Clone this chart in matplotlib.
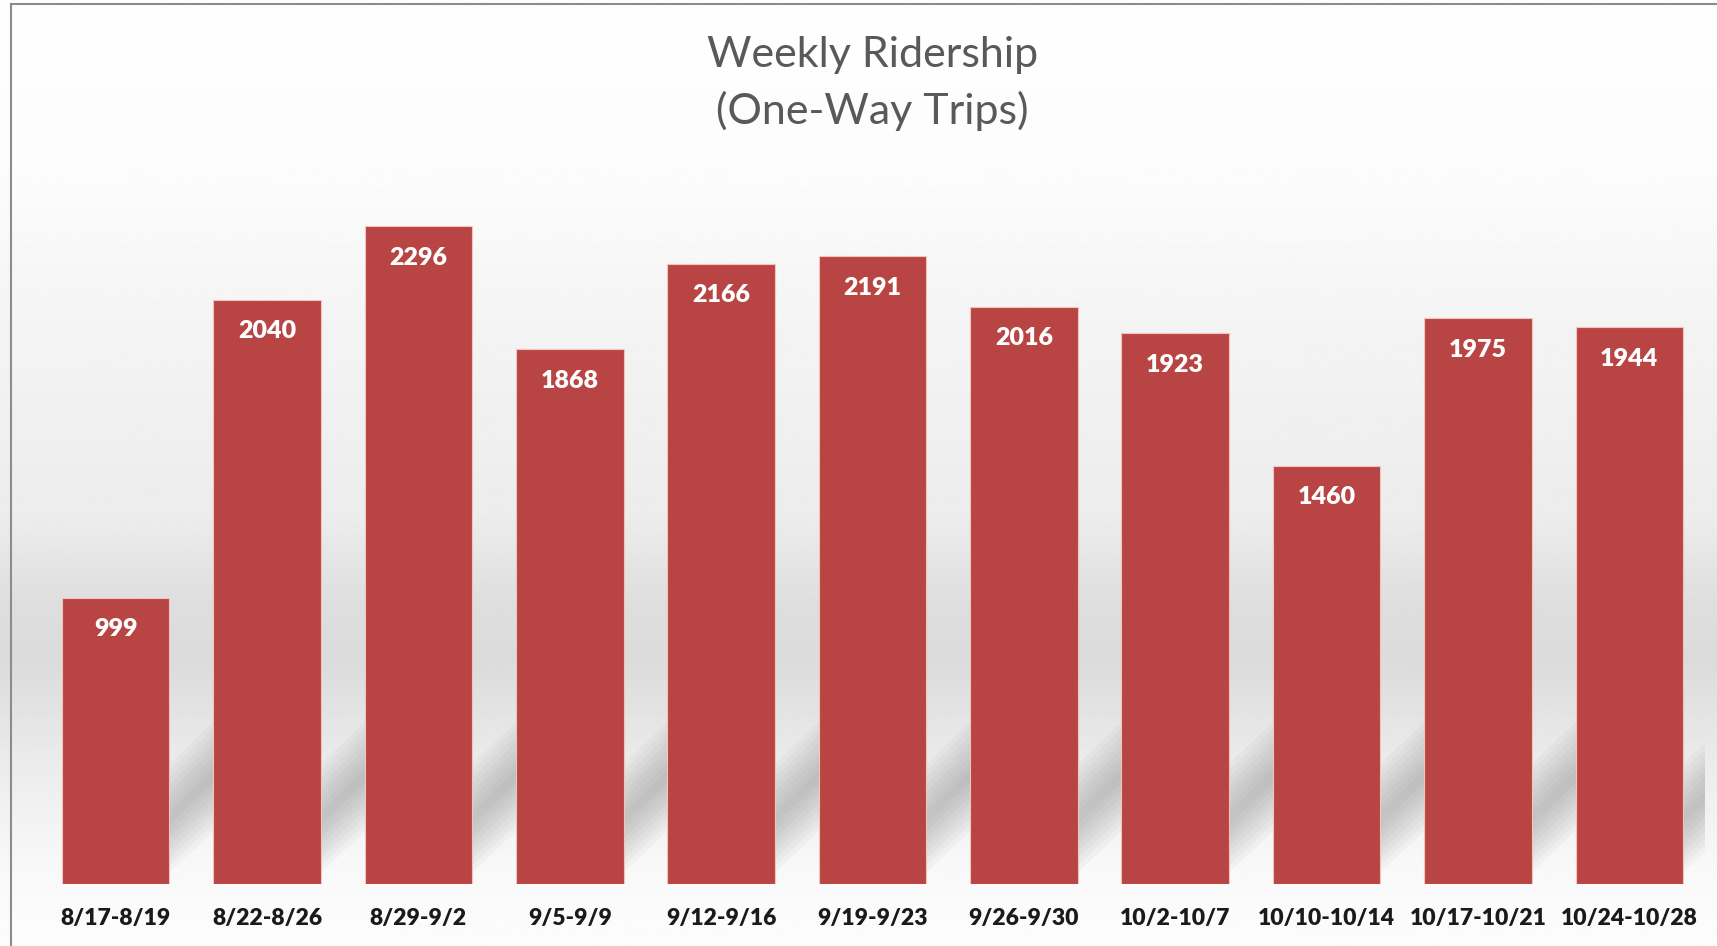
import numpy as np
import matplotlib.pyplot as plt
from matplotlib.patches import Polygon

weeks = ['8/17-8/19', '8/22-8/26', '8/29-9/2', '9/5-9/9', '9/12-9/16', '9/19-9/23',
         '9/26-9/30', '10/2-10/7', '10/10-10/14', '10/17-10/21', '10/24-10/28']
trips = [999, 2040, 2296, 1868, 2166, 2191, 2016, 1923, 1460, 1975, 1944]

plt.rcParams['font.family'] = ['Lato', 'DejaVu Sans']

fig = plt.figure(figsize=(17.17, 9.46), dpi=100)

# background gradient (white -> light gray -> white)
bg = fig.add_axes([0, 0, 1, 1], zorder=0)
stops_y = [0.0, 0.17, 0.35, 0.55, 0.64, 0.70, 0.80, 0.92, 1.0]
stops_v = [0.995, 0.99, 0.955, 0.925, 0.87, 0.86, 0.92, 0.975, 0.99]
yy = np.linspace(0, 1, 400)
col = np.interp(yy, stops_y, stops_v)
bg.imshow(np.repeat(col[:, None], 2, axis=1), cmap='gray', vmin=0, vmax=1,
          aspect='auto', extent=[0, 1, 1, 0])
bg.set_xlim(0, 1)
bg.set_ylim(1, 0)
bg.axis('off')
# frame lines
bg.plot([0.0065, 0.0065], [0.004, 1], color='#8c8c8c', lw=1.5)
bg.plot([0.0065, 1], [0.004, 0.004], color='#8c8c8c', lw=1.5)

ax = fig.add_axes([40 / 1717, 62 / 946, 1665 / 1717, 716 / 946], zorder=1)
ax.patch.set_alpha(0)
x = np.arange(len(weeks))
w = 0.71

# soft diagonal shadows behind bars
for xi in x:
    x0 = xi + w / 2
    for k in range(8):
        s = k * 24
        poly = Polygon([(x0, 40 + s), (x0, 420 - s), (x0 + 0.6, 720 - s), (x0 + 0.6, 340 + s)],
                       closed=True, facecolor='#707070', alpha=0.05, lw=0, zorder=1)
        ax.add_patch(poly)

bars = ax.bar(x, trips, width=w, color='#b84444', edgecolor='#f3c4bc', linewidth=0.8, zorder=2)
for b, v in zip(bars, trips):
    ax.text(b.get_x() + b.get_width() / 2, v - 110, str(v), ha='center', va='center',
            color='white', fontsize=18, fontweight='heavy', zorder=3)

ax.set_xlim(-0.5, len(weeks) - 0.5)
ax.set_ylim(0, 2500)
ax.set_yticks([])
ax.set_xticks(x)
ax.set_xticklabels(weeks, fontsize=16.5, fontweight='heavy', color='#1a1a1a')
ax.tick_params(axis='x', length=0, pad=17)
for sp in ax.spines.values():
    sp.set_visible(False)

fig.text(0.508, 0.962, 'Weekly Ridership\n(One-Way Trips)', ha='center', va='top',
         fontsize=31, color='#595959', linespacing=1.5)

fig.savefig('out.png', dpi=100)
